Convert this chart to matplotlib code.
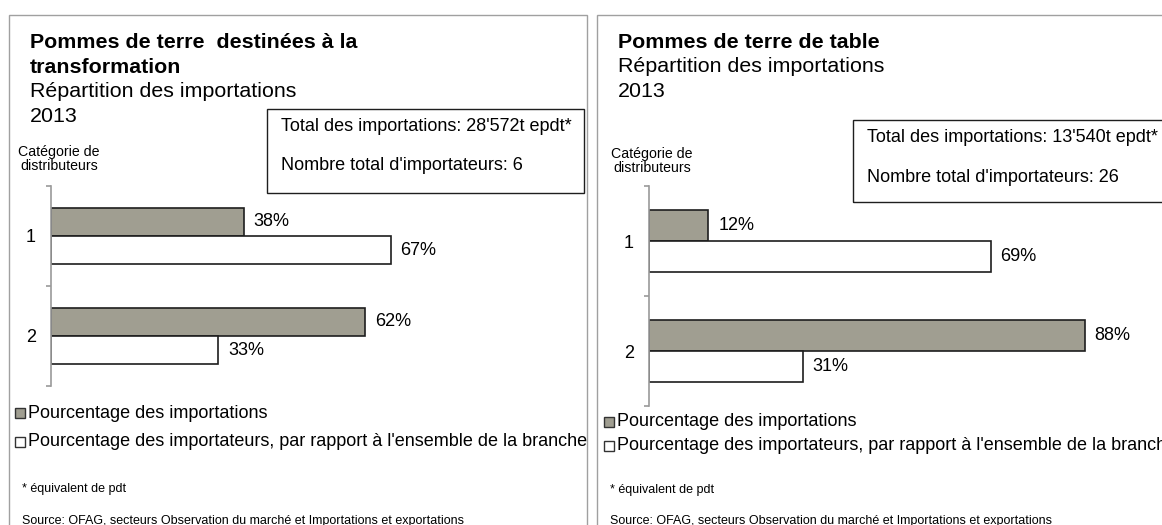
import matplotlib
matplotlib.use("Agg")
import matplotlib.pyplot as plt
from matplotlib.patches import Rectangle

plt.rcParams['font.family'] = ['Liberation Sans', 'DejaVu Sans']

# data
categories = ["1", "2"]
left_imports = [38, 62]      # Pourcentage des importations
left_importers = [67, 33]    # Pourcentage des importateurs
right_imports = [12, 88]
right_importers = [69, 31]

left_title = ["Pommes de terre  destinées à la", "transformation"]
right_title = ["Pommes de terre de table"]
subtitle = ["Répartition des importations", "2013"]
left_info = ["Total des importations: 28'572t epdt*", "Nombre total d'importateurs: 6"]
right_info = ["Total des importations: 13'540t epdt*", "Nombre total d'importateurs: 26"]
legend_labels = ["Pourcentage des importations",
                 "Pourcentage des importateurs, par rapport à l'ensemble de la branche"]
foot_note = "* équivalent de pdt"
source = "Source: OFAG, secteurs Observation du marché et Importations et exportations"

GRAY = "#a09e91"
EDGE = "#1e1e1e"
FRAME = "#a0a0a0"

W, H = 1162, 525
fig = plt.figure(figsize=(W / 100, H / 100), dpi=100)


def fx(x):
    return x / W


def fy(y):
    return 1 - y / H


def ftext(x, y, s, **kw):
    kw.setdefault("va", "center")
    fig.text(fx(x), fy(y), s, **kw)


def frect(x0, y0, x1, y1, **kw):
    r = Rectangle((fx(x0), fy(y1)), (x1 - x0) / W, (y1 - y0) / H,
                  transform=fig.transFigure, **kw)
    fig.add_artist(r)


def panel(L, titles, info, imports, importers):
    # outer frame
    frect(L["frame"][0], 15, L["frame"][1], 560, fill=False, edgecolor=FRAME, lw=1)

    # titles
    y = L["title_y"]
    for t in titles:
        ftext(L["tx"], y, t, fontsize=15.4, fontweight="bold")
        y += L["title_step"]
    for t in subtitle:
        ftext(L["tx"], y, t, fontsize=15.4)
        y += L["title_step"]

    # info box
    bx0, by0, bx1, by1 = L["box"]
    frect(bx0, by0, bx1, by1, fill=False, edgecolor=EDGE, lw=1)
    ftext(bx0 + 14, by0 + 18, info[0], fontsize=13)
    ftext(bx0 + 14, by0 + 57, info[1], fontsize=13)

    ftext(L["cat_x"], L["cat_y"], "Catégorie de\ndistributeurs", fontsize=10.2,
          ha="center", multialignment="center", linespacing=1.05)

    # bar chart
    x0, y0, y1, px_per_pct = L["axes"]
    ax = fig.add_axes([fx(x0), fy(y1), 100 * px_per_pct / W, (y1 - y0) / H])
    ax.set_xlim(0, 100)
    ax.set_ylim(1.5, -0.5)
    ax.patch.set_visible(False)
    h = L["bar_h"]
    pos = list(range(len(categories)))
    ax.barh([p - h / 2 for p in pos], imports, height=h, color=GRAY,
            edgecolor=EDGE, lw=1.2)
    ax.barh([p + h / 2 for p in pos], importers, height=h, color="white",
            edgecolor=EDGE, lw=1.2)
    for p, v in zip(pos, imports):
        ax.annotate(f"{v}%", (v, p - h / 2), xytext=(7, 0), textcoords="offset points",
                    va="center", ha="left", fontsize=13, annotation_clip=False)
    for p, v in zip(pos, importers):
        ax.annotate(f"{v}%", (v, p + h / 2), xytext=(7, 0), textcoords="offset points",
                    va="center", ha="left", fontsize=13, annotation_clip=False)

    for s in ["top", "right", "bottom"]:
        ax.spines[s].set_visible(False)
    ax.spines["left"].set_color("#9a9a9a")
    ax.spines["left"].set_linewidth(1.2)
    ax.xaxis.set_visible(False)
    ax.set_yticks(pos)
    ax.set_yticklabels(categories, fontsize=13)
    ax.tick_params(axis="y", which="major", length=0, pad=11)
    ax.set_yticks([-0.5, 0.5, 1.5], minor=True)
    ax.tick_params(axis="y", which="minor", length=3.5, color="#9a9a9a", width=1.2)

    # legend
    mx, ly = L["legend"]
    for lab, col, yy in zip(legend_labels, [GRAY, "white"], ly):
        frect(mx, yy - 5, mx + 10, yy + 5, facecolor=col, edgecolor="#333333", lw=1)
        ftext(mx + 13, yy, lab, fontsize=13)

    ftext(L["foot_x"], L["foot_y"][0], foot_note, fontsize=9)
    ftext(L["foot_x"], L["foot_y"][1], source, fontsize=9)


left_layout = dict(frame=(9, 587), tx=30, title_y=43, title_step=24.4,
                   box=(267, 109, 584, 193), cat_x=59, cat_y=159,
                   axes=(51, 186, 386, 5.07), bar_h=0.283,
                   legend=(15, [413, 442]), foot_x=22, foot_y=[489, 521])
right_layout = dict(frame=(597, 1200), tx=618, title_y=42, title_step=24.6,
                    box=(853, 120, 1200, 202), cat_x=652, cat_y=161,
                    axes=(649, 186, 406, 4.952), bar_h=0.286,
                    legend=(604, [422, 446]), foot_x=610, foot_y=[490, 521])

panel(left_layout, left_title, left_info, left_imports, left_importers)
panel(right_layout, right_title, right_info, right_imports, right_importers)

fig.savefig("out.png", dpi=100)
